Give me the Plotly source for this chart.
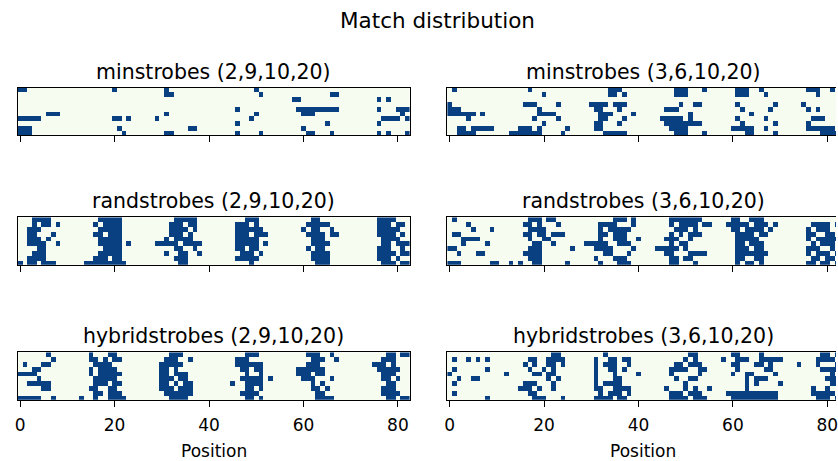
import numpy as np
import plotly.graph_objects as go

# ---------------- data (column ranges with a match, per row, top row first) -------------
positions = list(range(83))          # x positions 0..82
reads = list(range(10))              # 10 rows per panel
tick_vals = [0, 20, 40, 60, 80]
tick_text = ["0", "20", "40", "60", "80"]

titles = [
    "minstrobes (2,9,10,20)", "minstrobes (3,6,10,20)",
    "randstrobes (2,9,10,20)", "randstrobes (3,6,10,20)",
    "hybridstrobes (2,9,10,20)", "hybridstrobes (3,6,10,20)",
]

minstrobes_2_9 = [
    "0-1,20,31,50",
    "31-32,51,66-67",
    "58-59,76,78",
    "",
    "46,59-67,76,80-82",
    "6-8,31,50,60-62,81",
    "0-4,20-21,23,29,49,77-80,82",
    "46,65,76",
    "0-2,21,36-37,60",
    "0-2,22,31-32,46,51,61-62,66,76,78,82",
]
minstrobes_3_6 = [
    "1,17,34-36,48-50,54,61-63,66,76-78,81",
    "20,34-35,37,48-50,61-63,67,78",
    "",
    "0,16-18,23,30-33,35-37,49,52-53,61,69,75",
    "0-2,19,31-32,36,46-48,62,68,76,78",
    "0-5,7,19-22,32-34,39,51,64",
    "4,18,23,32-33,37,45-49,51,61,67,77-79",
    "20,31-32,36,46-53,62,69,76",
    "2-3,5-9,15-17,19,25,31-32,47-50,60-64,67,76-81",
    "2-5,13-19,24,33-37,48-50,54,63-64,69,79-82",
]
randstrobes_2_9 = [
    "3-6,17-21,33-37,48-50,62-63,76-79",
    "3,5-6,8,16,18-21,32-34,36-37,46-48,50,61-65,76-78,80-81",
    "2-4,17-21,32-35,37,46-51,60,62-63,66,76-80",
    "2-3,7,16-17,19-21,32-34,36,46-48,50-52,61-64,66-67,76-79,81",
    "2-4,6,17-21,31,33-36,46-50,62-64,77-80",
    "2-5,8,17-21,23,29-33,35-38,46-50,52,62-65,77-78,80-82",
    "4-5,18-21,33-34,37,46-47,49-50,61,63-64,76-78,81",
    "3-5,17-21,31,34-35,38,47-49,51,62-65,76-79,81-82",
    "2-5,16-18,20-21,33-35,46-50,62-65,76-78,80",
    "0,2-3,5-7,14-22,34-35,49,63-65,77-79,81-82",
]
randstrobes_3_6 = [
    "1,17-19,21-22,35-37,39,47-53,60-61,64-66",
    "4,16-17,19,23,32-35,39,47,49-52,54-55,59-63,65-67,69,77-80,82",
    "5,9,17-20,32,34-38,48-50,52,60-61,63-66,68,76,78-80",
    "1-2,16-17,19-20,22-24,32-33,35-37,47,49,51-53,61-64,66-67,76-77,80-81",
    "3-6,17,20-21,32,35-37,40,46-48,51,61-65,76,78-82",
    "3,8,18-19,22,29-33,36-38,47,49-50,61-62,64-66,77,79-81",
    "0-1,17-19,26,31-34,39,44-48,50,61-63,65-66,76-78,81",
    "2,6-7,16-19,33-34,38,46-47,51-54,61-67,76,78-80,82",
    "17-19,31,35-37,47-48,50-51,61-62,65-66,77-78,80-81",
    "0-2,9-10,13,15,18-19,25,32,36-38,47-48,52,61,63-64,66,76-77,79-80,82",
]
hybridstrobes_2_9 = [
    "6,15,19-20,32-34,48-50,61-63,66,78-79,81-82",
    "7,15-16,18,20-21,31-33,36,46-48,62-64,67,77-79",
    "1,5-6,16-19,30-34,46-51,61-63,75-77,79",
    "3-4,15,17-20,30-31,33,47-48,50-51,59-64,76-80",
    "0-3,15,17-21,30-31,33-35,48,51,59-61,63-64,77-79",
    "4,16-20,30-32,34-35,47-51,53,60-62,66,77-78,80",
    "2-6,16-18,20-21,30-31,33,35-36,45,48-51,62,64,78-79",
    "5-6,15-16,19-20,30-32,34-36,48-49,51,62-63,65,77-79",
    "16-17,19-21,31-36,47-50,63-64,77-80",
    "0-4,7,13,16,19-22,32-35,48-49,51,63-66,78-79,81-82",
]
hybridstrobes_3_6 = [
    "22-23,33,51-52,60-61,66,79-80,82",
    "1,4,6,8,17-18,21-24,31,34-35,37-38,50,52,58,61-63,66-70,78-81",
    "16,18,21-22,24,31,33-35,38,48-49,51-53,60-61,65-66,68,74,78,82",
    "1,8,17,20,22,31,34-35,37,47-50,53-54,61,67-68,79-82",
    "0,12,18-19,21-22,31,35,40,47,53,60,63-64,69,81",
    "2,5-6,21,23,31,35-36,48,51-52,63,65-67,80-82",
    "1,16-18,22,31,33-36,50,63,65,70,81-82",
    "15-17,19,22,31-32,35-38,46,50,52,55,63,77,80",
    "1,17-18,32,34-36,38,47-49,51-53,59-69,77-81",
    "8,18-20,24,31-34,36-37,47-50,52-54,60-69,78-80,82",
]

panels = [minstrobes_2_9, minstrobes_3_6, randstrobes_2_9,
          randstrobes_3_6, hybridstrobes_2_9, hybridstrobes_3_6]


def to_matrix(rows):
    z = np.zeros((len(reads), len(positions)), dtype=int)
    for r, spec in enumerate(rows):
        for part in spec.split(","):
            part = part.strip()
            if not part:
                continue
            if "-" in part:
                a, b = map(int, part.split("-"))
                z[r, a:b + 1] = 1
            else:
                z[r, int(part)] = 1
    return z


# ---------------- layout geometry ----------------
W, H = 838, 461
cell = 4.75
left_x0 = [14.9, 446.9]            # pixel left edge of each column of panels
top_y0 = [87.5, 217.3, 352.3]      # pixel top edge of each row of panels
title_y = [72, 201, 336]
FONT = "DejaVu Sans"

fig = go.Figure()
colorscale = [[0, "#f7fcf0"], [1, "#084081"]]

for i, rows in enumerate(panels):
    pr, pc = divmod(i, 2)
    n = i + 1
    xa = "x" if n == 1 else f"x{n}"
    ya = "y" if n == 1 else f"y{n}"
    z = to_matrix(rows)
    fig.add_trace(go.Heatmap(
        x=positions, y=reads, z=z, xaxis=xa, yaxis=ya,
        colorscale=colorscale, zmin=0, zmax=1, showscale=False,
        hoverinfo="skip",
    ))
    x0 = left_x0[pc]
    x1 = min(x0 + cell * len(positions), W)
    xmax = -0.5 + (x1 - x0) / cell
    y0 = top_y0[pr]
    y1 = y0 + cell * len(reads)
    xkey = "xaxis" if n == 1 else f"xaxis{n}"
    ykey = "yaxis" if n == 1 else f"yaxis{n}"
    fig.update_layout({
        xkey: dict(
            domain=[x0 / W, x1 / W], range=[-0.5, xmax], anchor=ya,
            showline=True, linecolor="black", linewidth=1, mirror=True,
            ticks="outside", ticklen=6, tickwidth=1, tickcolor="black",
            tickvals=tick_vals, ticktext=tick_text,
            showticklabels=(pr == 2), ticklabeloverflow="allow",
            ticklabelstandoff=4,
            tickfont=dict(family=FONT, size=17, color="black"),
            showgrid=False, zeroline=False, fixedrange=True,
        ),
        ykey: dict(
            domain=[1 - y1 / H, 1 - y0 / H], range=[len(reads) - 0.5, -0.5],
            anchor=xa, showline=True, linecolor="black", linewidth=1,
            mirror=(pc == 0), ticks="", showticklabels=False,
            showgrid=False, zeroline=False, fixedrange=True,
        ),
    })
    cx = (x0 + x0 + cell * len(positions)) / 2
    fig.add_annotation(
        x=cx / W, y=1 - title_y[pr] / H, xref="paper", yref="paper",
        text=titles[i], showarrow=False, xanchor="center", yanchor="middle",
        font=dict(family=FONT, size=20.5, color="black"),
    )
    if pr == 2:
        fig.add_annotation(
            x=cx / W, y=1 - 451 / H, xref="paper", yref="paper",
            text="Position", showarrow=False, xanchor="center", yanchor="middle",
            font=dict(family=FONT, size=17, color="black"),
        )

fig.add_annotation(
    x=437.5 / W, y=1 - 20 / H, xref="paper", yref="paper",
    text="Match distribution", showarrow=False, xanchor="center",
    yanchor="middle", font=dict(family=FONT, size=21.5, color="black"),
)

fig.update_layout(
    width=W, height=H, margin=dict(l=0, r=0, t=0, b=0),
    paper_bgcolor="white", plot_bgcolor="white", showlegend=False,
)

fig.write_html(
    "out.html",
    config={"displayModeBar": False, "staticPlot": True},
    post_script="document.body.style.margin='0px';document.body.style.overflow='hidden';",
)
